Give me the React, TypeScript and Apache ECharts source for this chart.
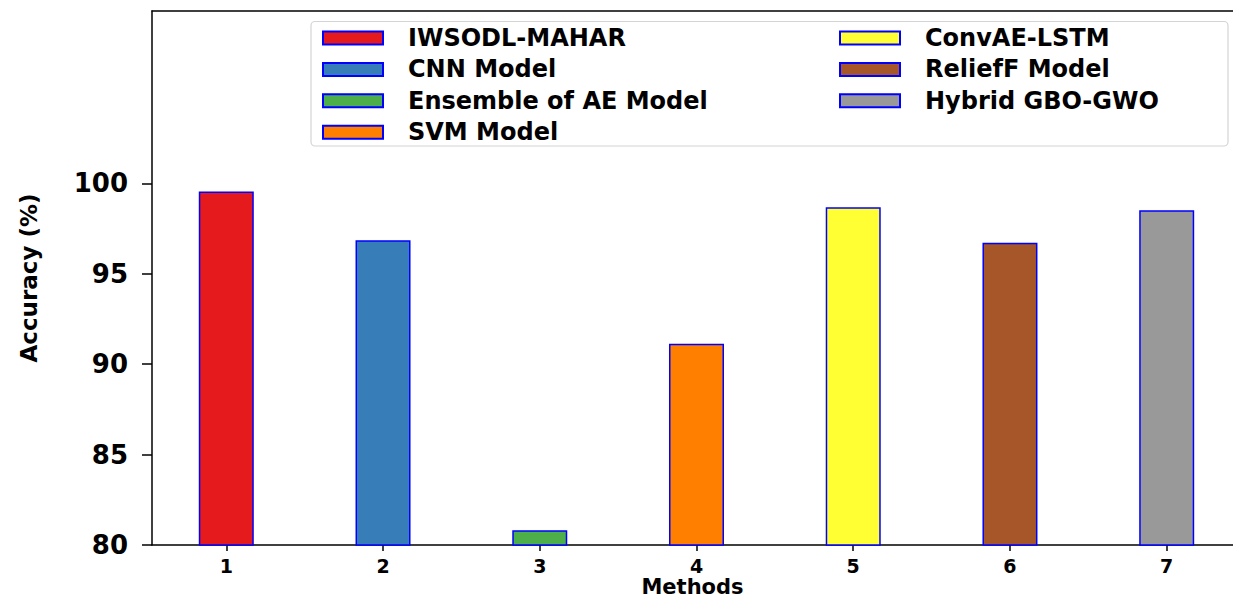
import React, { useEffect, useRef } from "react";
import * as echarts from "echarts";

// Methods compared, one bar each
const methods = [
  "IWSODL-MAHAR",
  "CNN Model",
  "Ensemble of AE Model",
  "SVM Model",
  "ConvAE-LSTM",
  "ReliefF Model",
  "Hybrid GBO-GWO",
];
const xPositions = [1, 2, 3, 4, 5, 6, 7];
const accuracy = [99.55, 96.85, 80.81, 91.13, 98.68, 96.72, 98.51];
const barColors = ["#e41a1c", "#377eb8", "#4daf4a", "#ff7f00", "#ffff33", "#a65628", "#999999"];
const yTicks = [80, 85, 90, 95, 100];

const FONT = "DejaVu Sans";

export default function App() {
  const ref = useRef<HTMLDivElement>(null);

  useEffect(() => {
    if (!ref.current) return;
    const chart = echarts.init(ref.current, undefined, { renderer: "svg" });

    const legendText = {
      fontSize: 24,
      fontWeight: "bold" as const,
      fontFamily: FONT,
      color: "#000",
      lineHeight: 22,
      padding: [0, 0, 0, 20],
    };
    const legendBase = {
      orient: "vertical" as const,
      top: 26,
      itemWidth: 60,
      itemHeight: 13,
      itemGap: 7.4,
      padding: 0,
      icon: "rect",
      selectedMode: false,
      textStyle: legendText,
      z: 5,
    };

    chart.setOption({
      animation: false,
      textStyle: { fontFamily: FONT },
      grid: { left: 152, top: 11, right: 0, bottom: 56, outerBoundsMode: "none", containLabel: false },
      xAxis: [
        {
          type: "value",
          min: 0.526,
          max: 7.423,
          name: "Methods",
          nameLocation: "middle",
          nameGap: 42,
          nameMoveOverlap: false,
          nameTextStyle: {
            fontSize: 21,
            lineHeight: 21,
            fontWeight: "bold",
            color: "#000",
            fontFamily: FONT,
            verticalAlign: "middle",
          },
          axisLine: { show: true, lineStyle: { color: "#000", width: 1.5 } },
          axisTick: { show: true, length: 6, lineStyle: { color: "#000", width: 1.5 }, customValues: xPositions },
          axisLabel: {
            customValues: xPositions,
            fontSize: 19,
            lineHeight: 19,
            fontWeight: "bold",
            color: "#000",
            margin: 11,
            fontFamily: FONT,
          },
          splitLine: { show: false },
        },
        {
          type: "value",
          position: "top",
          min: 0.526,
          max: 7.423,
          axisLine: { show: true, lineStyle: { color: "#000", width: 1.5 } },
          axisTick: { show: false },
          axisLabel: { show: false },
          splitLine: { show: false },
        },
      ],
      yAxis: {
        type: "value",
        min: 80,
        max: 109.53,
        name: "Accuracy (%)",
        nameLocation: "middle",
        nameGap: 112,
        nameRotate: 90,
        nameMoveOverlap: false,
        nameTextStyle: { fontSize: 23, fontWeight: "bold", color: "#000", fontFamily: FONT },
        axisLine: { show: true, lineStyle: { color: "#000", width: 1.5 } },
        axisTick: { show: true, length: 10, lineStyle: { color: "#000", width: 1.5 }, customValues: yTicks },
        axisLabel: {
          customValues: yTicks,
          fontSize: 26,
          fontWeight: "bold",
          color: "#000",
          margin: 24,
          fontFamily: FONT,
        },
        splitLine: { show: false },
      },
      legend: [
        { ...legendBase, left: 322, data: methods.slice(0, 4) },
        { ...legendBase, left: 839, data: methods.slice(4) },
      ],
      graphic: [
        {
          type: "rect",
          z: 0,
          shape: { x: 311, y: 21.5, width: 917, height: 124.5, r: 4 },
          style: { fill: "rgba(255,255,255,0.8)", stroke: "#d4d4d4", lineWidth: 1.2 },
        },
      ],
      series: methods.map((name, i) => ({
        type: "bar",
        name,
        xAxisIndex: 0,
        data: [[xPositions[i], accuracy[i]]],
        barWidth: 55,
        barGap: "-100%",
        itemStyle: { color: barColors[i], borderColor: "#0000ff", borderWidth: 1.5 },
      })),
    });

    return () => chart.dispose();
  }, []);

  return (
    <div
      ref={ref}
      style={{ position: "absolute", left: 0, top: 0, width: 1233, height: 601, background: "#fff" }}
    />
  );
}
